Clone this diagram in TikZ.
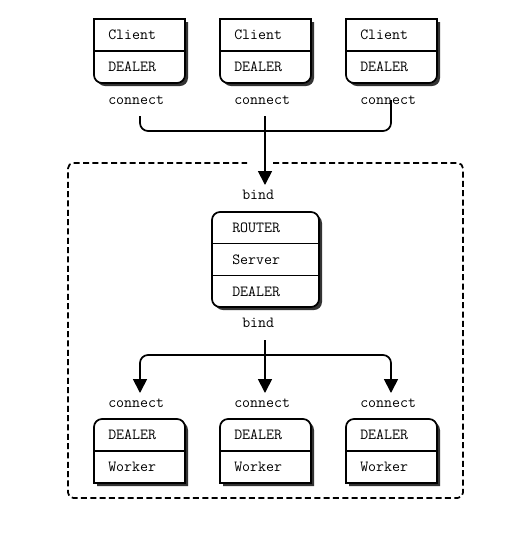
\documentclass[tikz,border=0pt]{standalone}
\usetikzlibrary{arrows.meta, positioning, calc, shadows}

\begin{document}
\begin{tikzpicture}[x=0.75pt, y=0.75pt,
        frame/.style={minimum width=68.25pt, minimum height=48pt, inner sep=0pt, outer sep=0pt},
        outline/.style={line width=1.3pt, draw=black, fill=white, drop shadow={shadow xshift=2.25pt, shadow yshift=-2.25pt, opacity=1, fill=black!80}},
        divider/.style={line width=1.3pt},
        lbl/.style={font=\ttfamily\fontsize{11.6}{13.5}\selectfont, inner sep=0pt, anchor=west},
        wire/.style={line width=1.3pt},
        arrow/.style={wire, -{Triangle[length=10.5pt, width=10.5pt]}},
        dashbox/.style={line width=1.3pt, dash pattern=on 4.5pt off 2.5pt, rounded corners=4pt}]

        \useasboundingbox (0,0) rectangle (531,-537);

        % Client boxes (top row)
        \node[frame] (c1) at (139.5,-51) {};
        \node[frame] (c2) at (265.5,-51) {};
        \node[frame] (c3) at (391.5,-51) {};
        \foreach \b/\k in {c1/k1, c2/k2, c3/k3} {
            \path[outline] (\b.north west) -- (\b.north east) -- ([yshift=6pt]\b.south east)
                arc[start angle=0, end angle=-90, radius=6pt] -- ([xshift=6pt]\b.south west)
                arc[start angle=270, end angle=180, radius=6pt] -- cycle;
            \draw[divider] (\b.west) -- (\b.east);
            \node[lbl] (\b-name) at ([xshift=10.5pt, yshift=12pt]\b.west) {Client};
            \node[lbl] (\b-sock) at ([xshift=10.5pt, yshift=-12pt]\b.west) {DEALER};
            \node[lbl] (\k) at ([xshift=10.5pt, yshift=-12.75pt]\b.south west) {connect};
        }

        % Broker frame (dashed, open where the arrow enters)
        \draw[dashbox] (273,-163) -- (463,-163) -- (463,-498) -- (68,-498) -- (68,-163) -- (247,-163);

        % Server box
        \node[frame, outline, rounded corners=6pt, minimum width=80.25pt, minimum height=71.25pt] (srv) at (265.5,-259.5) {};
        \draw[divider] ([yshift=12pt]srv.west) -- ([yshift=12pt]srv.east);
        \draw[divider] ([yshift=-12pt]srv.west) -- ([yshift=-12pt]srv.east);
        \node[lbl] (srv-front) at ([xshift=15pt, yshift=24pt]srv.west) {ROUTER};
        \node[lbl] (srv-name) at ([xshift=15pt]srv.west) {Server};
        \node[lbl] (srv-back) at ([xshift=15pt, yshift=-24pt]srv.west) {DEALER};
        \node[lbl] (bt) at ([xshift=22.5pt, yshift=12.75pt]srv.north west) {bind};
        \node[lbl] (bb) at ([xshift=22.5pt, yshift=-12pt]srv.south west) {bind};

        % Worker boxes (bottom row)
        \node[frame] (w1) at (139.5,-451) {};
        \node[frame] (w2) at (265.5,-451) {};
        \node[frame] (w3) at (391.5,-451) {};
        \foreach \b/\k in {w1/j1, w2/j2, w3/j3} {
            \path[outline] (\b.south west) -- (\b.south east) -- ([yshift=-6pt]\b.north east)
                arc[start angle=0, end angle=90, radius=6pt] -- ([xshift=6pt]\b.north west)
                arc[start angle=90, end angle=180, radius=6pt] -- cycle;
            \draw[divider] (\b.west) -- (\b.east);
            \node[lbl] (\b-sock) at ([xshift=10.5pt, yshift=12pt]\b.west) {DEALER};
            \node[lbl] (\b-name) at ([xshift=10.5pt, yshift=-12pt]\b.west) {Worker};
            \node[lbl] (\k) at ([xshift=10.5pt, yshift=12pt]\b.north west) {connect};
        }

        % Connector ends
        \coordinate (c1 out) at (140,-116);
        \coordinate (c2 out) at (265,-116);
        \coordinate (c3 out) at (391,-100);
        \coordinate (join) at (265,-131);
        \coordinate (srv in) at (265,-185);
        \coordinate (srv out) at (265,-340);
        \coordinate (fork) at (265,-355);
        \coordinate (w1 in) at (140,-393);
        \coordinate (w2 in) at (265,-393);
        \coordinate (w3 in) at (391,-393);

        % Clients to server
        \draw[wire, rounded corners=6pt] (c1 out) -- (c1 out |- join) -- (c3 out |- join) -- (c3 out);
        \draw[arrow] (c2 out) -- (srv in);

        % Server to workers
        \draw[wire] (srv out) -- (fork);
        \draw[arrow, rounded corners=6pt] (fork) -- (fork -| w1 in) -- (w1 in);
        \draw[arrow] (fork) -- (w2 in);
        \draw[arrow, rounded corners=6pt] (fork) -- (fork -| w3 in) -- (w3 in);
    \end{tikzpicture}
\end{document}
